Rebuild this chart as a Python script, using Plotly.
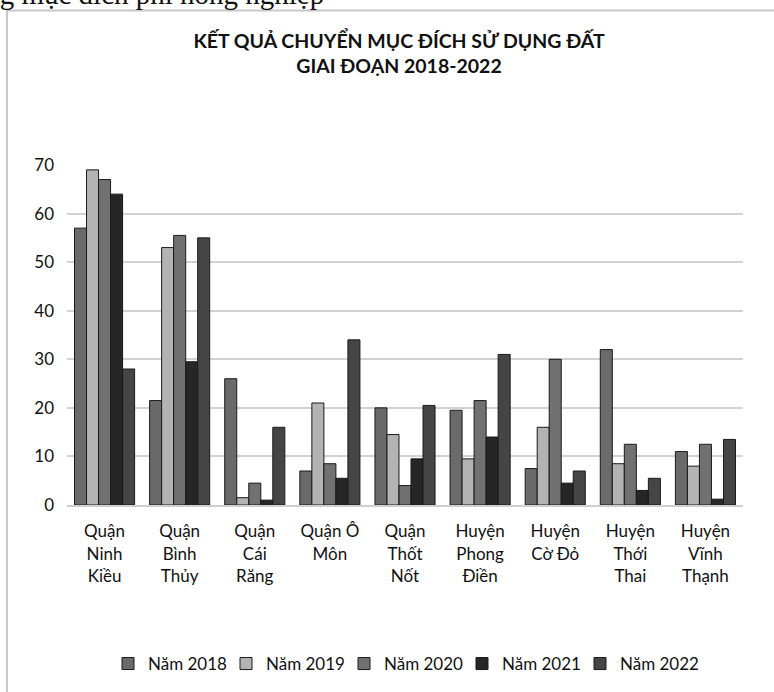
import plotly.graph_objects as go

# Land-use conversion results by district, 2018-2022
categories = [
    "Quận<br>Ninh<br>Kiều",
    "Quận<br>Bình<br>Thủy",
    "Quận<br>Cái<br>Răng",
    "Quận Ô<br>Môn",
    "Quận<br>Thốt<br>Nốt",
    "Huyện<br>Phong<br>Điền",
    "Huyện<br>Cờ Đỏ",
    "Huyện<br>Thới<br>Thai",
    "Huyện<br>Vĩnh<br>Thạnh",
]
years = ["Năm 2018", "Năm 2019", "Năm 2020", "Năm 2021", "Năm 2022"]
nam_2018 = [57, 21.5, 26, 7, 20, 19.5, 7.5, 32, 11]
nam_2019 = [69, 53, 1.5, 21, 14.5, 9.5, 16, 8.5, 8]
nam_2020 = [67, 55.5, 4.5, 8.5, 4, 21.5, 30, 12.5, 12.5]
nam_2021 = [64, 29.5, 1, 5.5, 9.5, 14, 4.5, 3, 1.2]
nam_2022 = [28, 55, 16, 34, 20.5, 31, 7, 5.5, 13.5]
series = [nam_2018, nam_2019, nam_2020, nam_2021, nam_2022]
y_ticks = [0, 10, 20, 30, 40, 50, 60, 70]

colors = ["#6a6a6a", "#b3b3b3", "#717171", "#262626", "#454545"]
FONT = "Lato"

fig = go.Figure()
for name, vals, col in zip(years, series, colors):
    fig.add_trace(go.Bar(
        x=list(range(len(categories))),
        y=vals,
        name=name,
        marker=dict(color=col, line=dict(color="#1a1a1a", width=1)),
    ))

# Frame around the chart area
fig.add_shape(type="rect", xref="paper", yref="paper",
              x0=(7 - 67) / 676, x1=(790 - 67) / 676,
              y0=(505 - 705) / 341, y1=(505 - 9) / 341,
              line=dict(color="#c8c8c8", width=2), fillcolor="rgba(0,0,0,0)",
              layer="below")

# Caption line running above the frame
fig.add_annotation(
    text="chuyển sang mục đích phi nông nghiệp",
    xref="paper", yref="paper",
    x=(326 - 67) / 676, y=(505 + 8) / 341,
    xanchor="right", yanchor="middle", showarrow=False,
    font=dict(family="Liberation Serif", size=29, color="#111111"),
)

fig.update_layout(
    width=774, height=692,
    margin=dict(l=67, r=31, t=165, b=186),
    paper_bgcolor="white", plot_bgcolor="white",
    barmode="group", bargap=0.2, bargroupgap=0.0,
    title=dict(
        text="<b>KẾT QUẢ CHUYỂN MỤC ĐÍCH SỬ DỤNG ĐẤT<br>GIAI ĐOẠN 2018-2022</b>",
        x=399 / 774, xanchor="center", xref="container",
        y=1 - 48 / 692, yanchor="middle", yref="container",
        font=dict(family=FONT, size=19.5, color="#111111"),
    ),
    font=dict(family=FONT, size=17, color="#111111"),
    xaxis=dict(
        tickmode="array",
        tickvals=list(range(len(categories))),
        ticktext=categories,
        showgrid=False, zeroline=False,
        showline=True, linecolor="#cfcfcf", linewidth=2,
        ticks="", ticklabelstandoff=10,
        tickfont=dict(family=FONT, size=17, color="#111111"),
        range=[-0.5, len(categories) - 0.5],
    ),
    yaxis=dict(
        range=[0, 70], tickmode="array", tickvals=y_ticks,
        showgrid=True, gridcolor="#d2d2d2", gridwidth=1.5,
        zeroline=False, showline=False, ticks="",
        ticklabelstandoff=12,
        tickfont=dict(family=FONT, size=17, color="#111111"),
    ),
    legend=dict(
        orientation="h", x=(403 - 67) / 676, xanchor="center",
        y=(505 - 663) / 341, yanchor="middle",
        entrywidth=73, entrywidthmode="pixels",
        font=dict(family=FONT, size=17, color="#111111"),
        traceorder="normal",
    ),
)

fig.write_html("out.html")
